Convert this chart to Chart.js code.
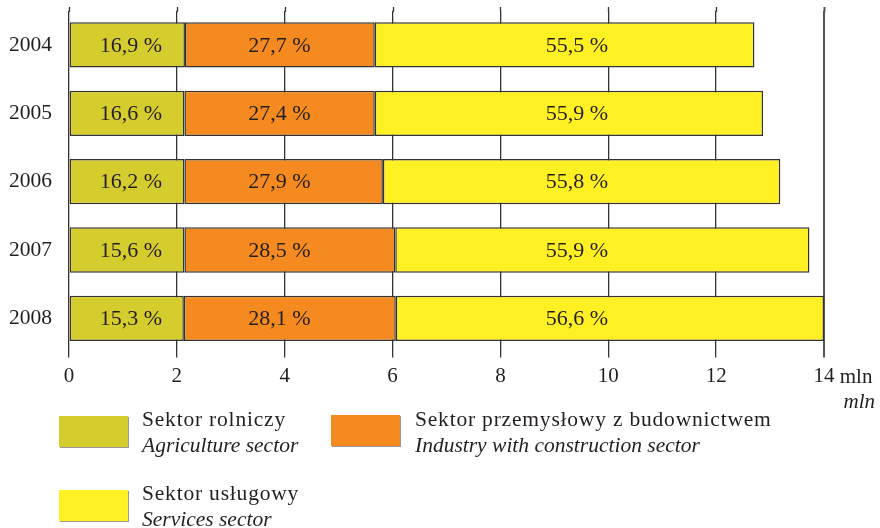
<!DOCTYPE html>
<html><head><meta charset="utf-8">
<script src="https://cdn.jsdelivr.net/npm/chart.js@4/dist/chart.umd.min.js"></script>
<style>html,body{margin:0;padding:0;background:#fff}#wrap{position:relative;width:880px;height:528px}</style>
</head><body><div id="wrap"><canvas id="c" width="880" height="528"></canvas></div>
<script>
// ---- data (values in millions) ----
const years = ['2004', '2005', '2006', '2007', '2008'];
const agriculture = [2.15, 2.14, 2.14, 2.14, 2.13];
const industry = [3.52, 3.53, 3.68, 3.91, 3.93];
const services = [7.04, 7.20, 7.37, 7.68, 7.94];
const pctAgriculture = [16.9, 16.6, 16.2, 15.6, 15.3];
const pctIndustry = [27.7, 27.4, 27.9, 28.5, 28.1];
const pctServices = [55.5, 55.9, 55.8, 55.9, 56.6];
const xTicks = [0, 2, 4, 6, 8, 10, 12, 14];
const labelAnchors = [1.15, 3.9, 9.42];
const legendPl = ['Sektor rolniczy', 'Sektor przemysłowy z budownictwem', 'Sektor usługowy'];
const legendEn = ['Agriculture sector', 'Industry with construction sector', 'Services sector'];
const unitLabel = 'mln';

const colors = ['#D5CC2E', '#F48A20', '#FFF024'];
const TXT = '#231f20';
const FONT = '"Liberation Serif", "Times New Roman", serif';
const fmt = v => v.toFixed(1).replace('.', ',');

const overlay = {
  id: 'overlay',
  beforeDatasetsDraw(chart) {
    const { ctx, chartArea, scales: { x } } = chart;
    ctx.save();
    xTicks.forEach(v => {
      const px = Math.round(x.getPixelForValue(v)) + 0.5;
      ctx.beginPath();
      ctx.lineWidth = v === 14 ? 2 : 1.3;
      ctx.strokeStyle = v === 14 ? '#555' : '#333';
      ctx.moveTo(px, 7); ctx.lineTo(px, chartArea.top + 1);
      ctx.stroke();
    });
    ctx.restore();
  },
  afterDatasetsDraw(chart) {
    const { ctx, scales: { x, y } } = chart;
    ctx.save();
    ctx.font = '22px ' + FONT;
    ctx.fillStyle = TXT; ctx.textAlign = 'center'; ctx.textBaseline = 'middle';
    const sets = [pctAgriculture, pctIndustry, pctServices];
    years.forEach((yr, i) => {
      const py = y.getPixelForValue(i);
      sets.forEach((arr, k) => {
        ctx.fillText(fmt(arr[i]) + ' %', x.getPixelForValue(labelAnchors[k]), py + 1);
      });
    });
    // unit after last tick
    ctx.font = '21px ' + FONT;
    const last = xTicks[xTicks.length - 1];
    const lx = x.getPixelForValue(last);
    ctx.textAlign = 'left'; ctx.textBaseline = 'alphabetic';
    const w = ctx.measureText(String(last)).width;
    ctx.fillText(' ' + unitLabel, lx + w / 2, 383);
    ctx.font = 'italic 21px ' + FONT;
    ctx.textAlign = 'right';
    ctx.fillText(unitLabel, 875, 408);
    // legend
    const pos = [{ bx: 59, by: 416, tx: 142, ty: 426 }, { bx: 331, by: 415, tx: 415, ty: 426 }, { bx: 59, by: 490, tx: 142, ty: 500 }];
    pos.forEach((p, k) => {
      ctx.fillStyle = '#9a9a9a';
      ctx.fillRect(p.bx + 1, p.by + 1, 69, 31);
      ctx.fillStyle = colors[k];
      ctx.fillRect(p.bx, p.by, 69, 31);
      ctx.fillStyle = TXT;
      ctx.textAlign = 'left';
      ctx.font = '21.5px ' + FONT;
      try { ctx.letterSpacing = '0.8px'; } catch (e) {}
      ctx.fillText(legendPl[k], p.tx, p.ty);
      try { ctx.letterSpacing = '0px'; } catch (e) {}
      ctx.font = 'italic 21.5px ' + FONT;
      ctx.fillText(legendEn[k], p.tx, p.ty + 26);
    });
    ctx.restore();
  }
};

const mk = (label, data, i) => ({
  label, data, backgroundColor: colors[i], borderColor: '#333', borderWidth: 1.5,
  borderSkipped: false, barPercentage: 0.663, categoryPercentage: 1
});

new Chart(document.getElementById('c'), {
  type: 'bar',
  data: {
    labels: years,
    datasets: [mk(legendPl[0], agriculture, 0), mk(legendPl[1], industry, 1), mk(legendPl[2], services, 2)]
  },
  options: {
    indexAxis: 'y', responsive: false, animation: false,
    layout: { padding: { top: 10.8, right: 56, bottom: 0, left: 0 } },
    plugins: { legend: { display: false }, tooltip: { enabled: false } },
    scales: {
      x: {
        stacked: true, min: 0, max: 14,
        afterBuildTicks: s => { s.ticks = xTicks.map(v => ({ value: v })); },
        afterFit: s => { s.height = 528 - 352.5; s.paddingLeft = 0; },
        border: { display: false },
        grid: {
          color: c => (c.tick && c.tick.value === 14) ? '#555' : '#333',
          lineWidth: c => (c.tick && c.tick.value === 14) ? 2 : 1.3,
          tickLength: 5
        },
        ticks: { color: TXT, font: { family: FONT, size: 21 }, padding: 6, maxRotation: 0, autoSkip: false }
      },
      y: {
        stacked: true,
        afterFit: s => { s.width = 69; s.paddingTop = 0; s.paddingBottom = 0; },
        border: { display: false },
        grid: { display: false, drawTicks: false },
        ticks: { color: TXT, font: { family: FONT, size: 21.5 }, padding: 17 }
      }
    }
  },
  plugins: [overlay]
});
</script></body></html>
